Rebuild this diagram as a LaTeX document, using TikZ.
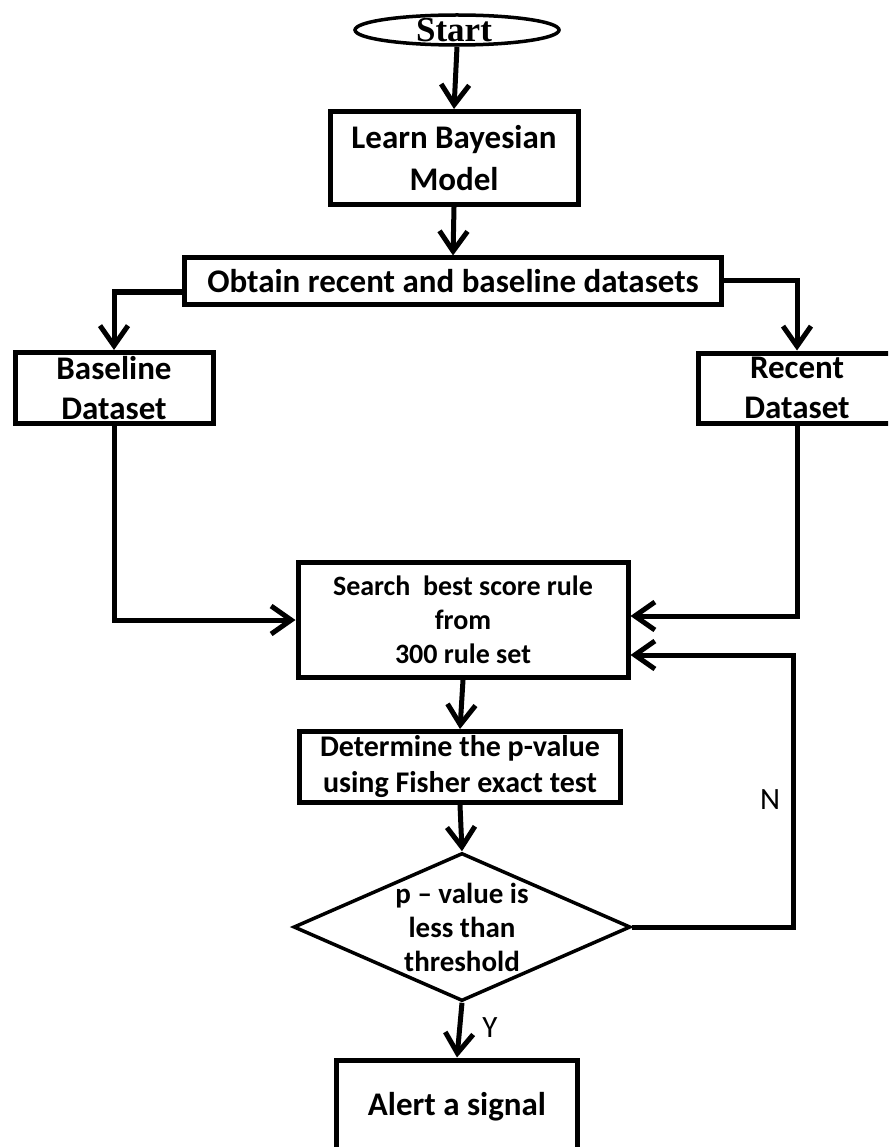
\documentclass[tikz,border=0pt]{standalone}
\usepackage{fontspec}
\setmainfont{Carlito}
\newfontfamily\startfont{Liberation Serif}
\usetikzlibrary{arrows.meta,shapes.geometric}

\begin{document}
\begin{tikzpicture}[x=1pt,y=-1pt,
  box/.style={draw, line width=5pt, inner sep=0pt, align=center,
    font=\bfseries\fontsize{33}{40}\selectfont},
  flow/.style={line width=5pt, -{Straight Barb[length=20pt,width=28pt]}},
  tag/.style={font=\fontsize{31}{31}\selectfont, inner sep=0pt}]
\useasboundingbox (0,0) rectangle (888,1147);
\clip (0,0) rectangle (888,1147);

% terminal
\node[draw, ellipse, line width=3.5pt, minimum width=204, minimum height=30, inner sep=0pt] (start) at (457,30) {};
\node[font=\startfont\bfseries\fontsize{35}{35}\selectfont, inner sep=0pt] (starttext) at (454,30) {Start};

% process boxes
\node[box, minimum width=248, minimum height=93, font=\bfseries\fontsize{33}{42}\selectfont] (learn) at (454,158) {Learn Bayesian\\Model};
\node[box, minimum width=537, minimum height=46] (obtain) at (453,281) {Obtain recent and baseline datasets};
\node[box, minimum width=198, minimum height=71] (baseline) at (114,388) {Baseline\\Dataset};
\node[box, minimum width=198, minimum height=70] (recent) at (797,388) {Recent\\Dataset};
\node[box, minimum width=330, minimum height=115, font=\bfseries\fontsize{28}{34}\selectfont] (search) at (463,620) {Search\ \ best score rule\\from\\300 rule set};
\node[box, minimum width=321, minimum height=71, font=\bfseries\fontsize{30}{36}\selectfont] (determine) at (460,767) {Determine the p-value\\using Fisher exact test};

% decision
\node[draw, diamond, line width=3.5pt, minimum width=337, minimum height=148, inner sep=0pt] (dec) at (462,927) {};
\node[align=center, inner sep=0pt, font=\bfseries\fontsize{29}{34}\selectfont] (dectext) at (dec.center) {p -- value is\\less than\\threshold};

\node[box, minimum width=241, minimum height=94, font=\bfseries\fontsize{33}{36}\selectfont] (alert) at (457,1107) {Alert a signal};

% connectors
\draw[flow] (start.south) -- (learn.north);
\draw[flow] (learn.south) -- (obtain.north);
\draw[flow] ([yshift=-11pt]obtain.west) -| (baseline.north);
\draw[flow] (obtain.east) -| (recent.north);
\draw[flow] (baseline.south) |- (search.west);
\draw[flow] (recent.south) |- ([yshift=4pt]search.east);
\draw[flow] (search.south) -- (determine.north);
\draw[flow] (determine.south) -- (dec.north);
\coordinate (nturn) at (793,655);
\draw[flow] (dec.east) -| (nturn) -- ([yshift=-35pt]search.east);
\draw[flow] (dec.south) -- (alert.north);

% branch labels
\node[tag] (nlabel) at (770,800) {N};
\node[tag] (ylabel) at (490,1028) {Y};
\end{tikzpicture}
\end{document}
